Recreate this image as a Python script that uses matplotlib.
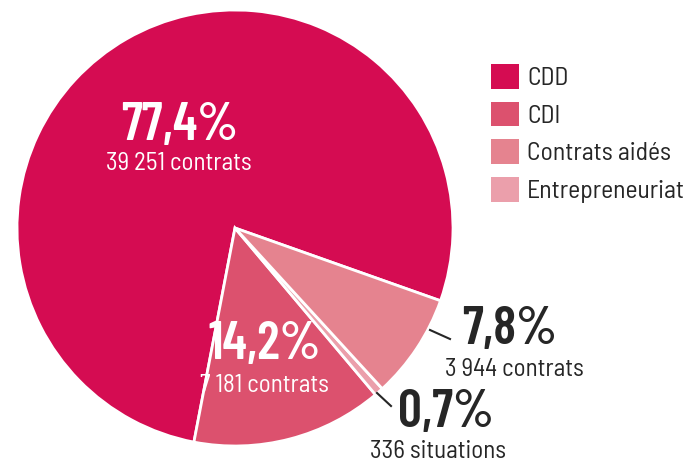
import numpy as np
import matplotlib.pyplot as plt
from matplotlib.patches import Patch

# donnees (ordre de dessin, sens anti-horaire)
categories = ['CDD', 'CDI', 'Entrepreneuriat', 'Contrats aidés']
valeurs = [39251, 7181, 336, 3944]
couleurs = ['#d50c52', '#dc516e', '#eb9fab', '#e5838f']
pourcents = ['77,4%', '14,2%', '0,7%', '7,8%']
effectifs = ['39 251 contrats', '7 181 contrats', '336 situations', '3 944 contrats']
ordre_legende = ['CDD', 'CDI', 'Contrats aidés', 'Entrepreneuriat']

plt.rcParams['font.family'] = ['Barlow Semi Condensed', 'DejaVu Sans']
gros = dict(family=['Barlow Condensed', 'DejaVu Sans'], fontsize=38, fontweight='semibold')
petit = dict(fontsize=18, fontweight='normal')
sombre = '#262626'

W, H = 691, 467
fig = plt.figure(figsize=(W / 100, H / 100), dpi=100)
ax = fig.add_axes([0, 0, 1, 1])

cx, cy, r = 235, H - 228, 218
ax.pie(valeurs, colors=couleurs, startangle=-19.5, counterclock=True,
       center=(cx, cy), radius=r, frame=True,
       wedgeprops=dict(edgecolor='white', linewidth=2))
ax.set_xlim(0, W)
ax.set_ylim(0, H)
ax.set_aspect('equal')
ax.axis('off')

# etiquettes dans les parts
ax.text(180, H - 126, pourcents[0], color='white', ha='center', va='center', **gros)
ax.text(179, H - 163, effectifs[0], color='white', ha='center', va='center', **petit)
ax.text(265, H - 345, pourcents[1], color='white', ha='center', va='center', **gros)
ax.text(264, H - 385, effectifs[1], color='white', ha='center', va='center', **petit)

# etiquettes exterieures
ax.plot([430, 450], [H - 330, H - 339], color=sombre, lw=1.5)
ax.text(462, H - 330, pourcents[3], color=sombre, ha='left', va='center', **gros)
ax.text(514, H - 369, effectifs[3], color=sombre, ha='center', va='center', **petit)
ax.plot([377, 391], [H - 393, H - 406], color=sombre, lw=1.5)
ax.text(398, H - 413, pourcents[2], color=sombre, ha='left', va='center', **gros)
ax.text(438, H - 451, effectifs[2], color=sombre, ha='center', va='center', **petit)

# legende
poignees = [Patch(facecolor=couleurs[categories.index(c)], label=c) for c in ordre_legende]
ax.legend(handles=poignees, loc='upper left', bbox_to_anchor=(468 / W, 1 - 41 / H),
          frameon=False, handlelength=1.1, handleheight=1.1,
          handletextpad=0.3, labelspacing=0.45, labelcolor=sombre,
          prop=dict(family=['Barlow Semi Condensed', 'DejaVu Sans'], weight='normal', size=18.5))

fig.savefig('out.png', dpi=100)
